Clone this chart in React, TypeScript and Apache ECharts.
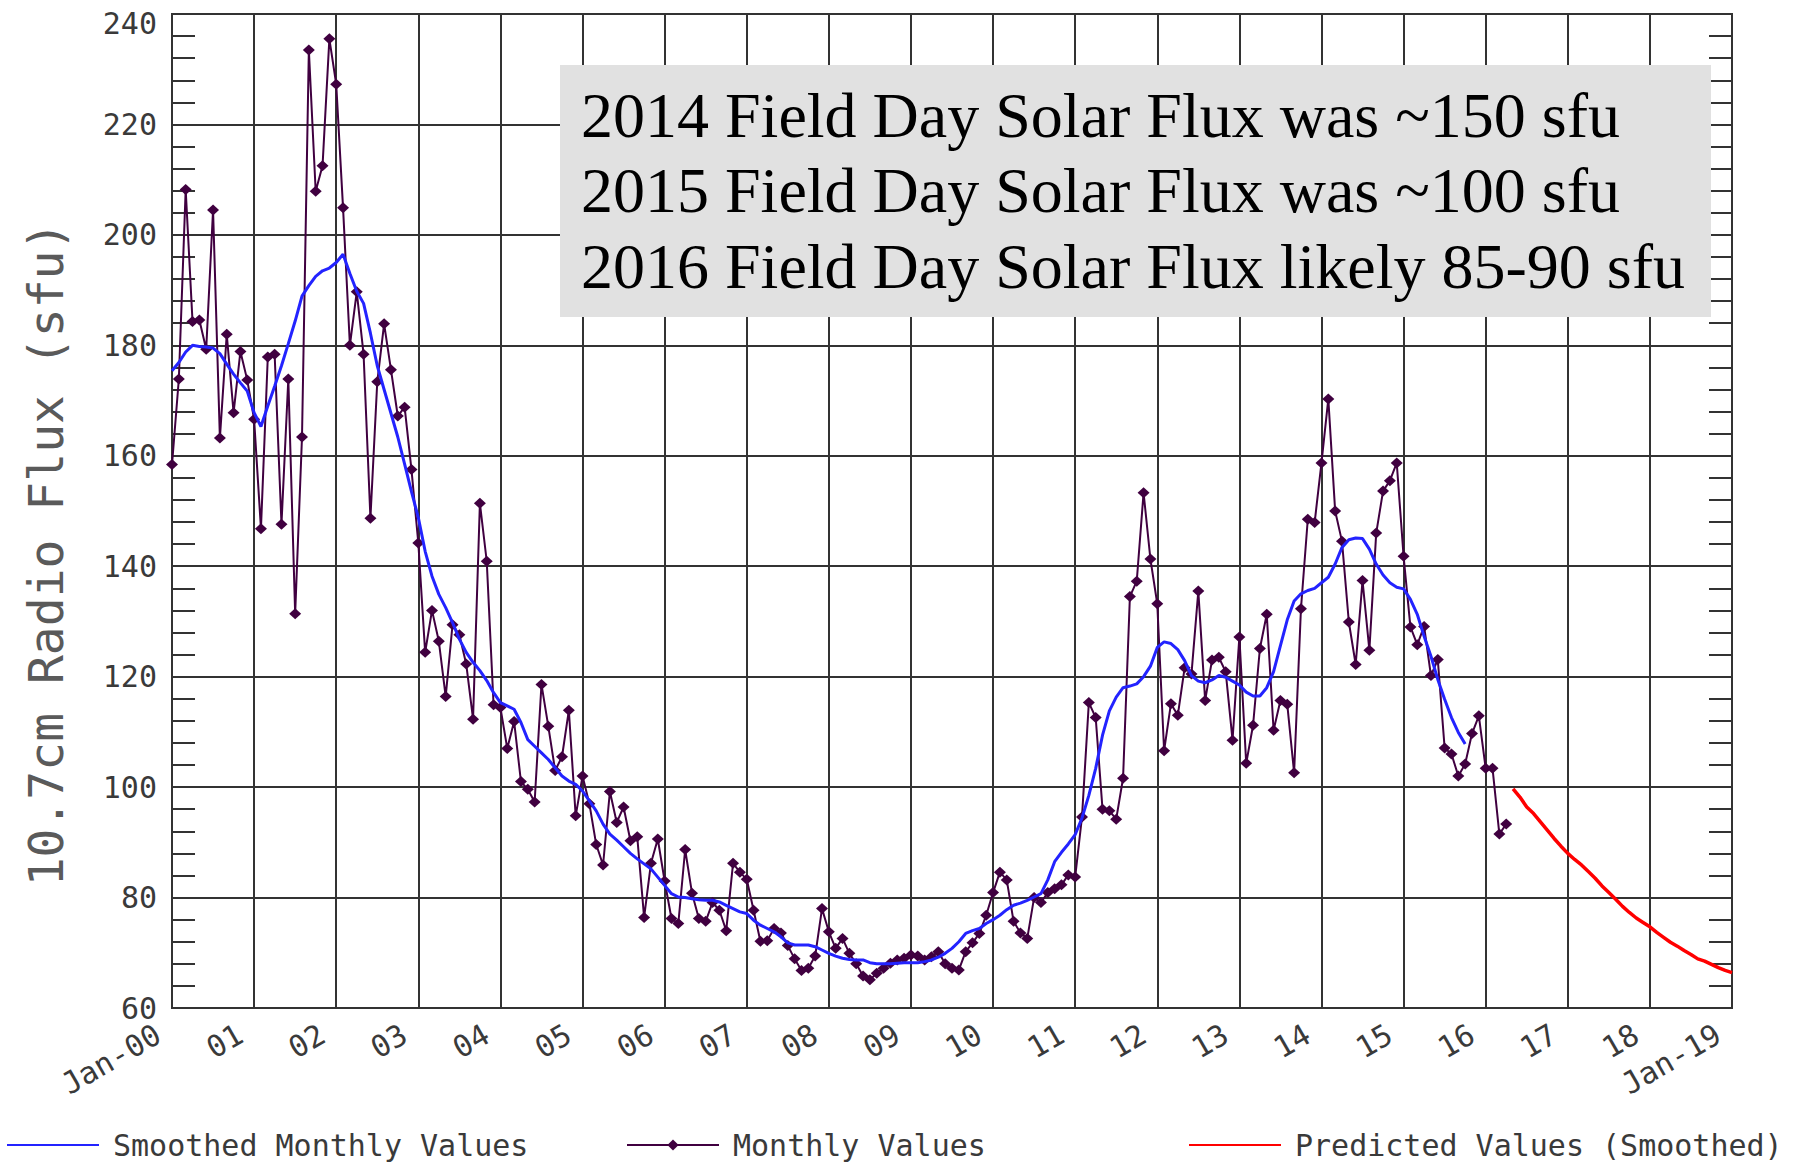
import React, { useEffect, useRef } from "react";
import * as echarts from "echarts";

// ---------- data ----------
const xTickLabels = [
  "Jan-00", "01", "02", "03", "04", "05", "06", "07", "08", "09",
  "10", "11", "12", "13", "14", "15", "16", "17", "18", "Jan-19",
];

// Monthly observed 10.7 cm flux, Jan 2000 .. Apr 2016
const monthlyStart = { year: 2000, month: 1 };
const monthlyValues = [
  158.4, 173.9, 208.2, 184.3, 184.6, 179.3, 204.5, 163.2, 182.0, 167.8, 178.9, 173.7,
  166.6, 146.8, 177.9, 178.4, 147.6, 173.9, 131.4, 163.4, 233.5, 207.9, 212.5, 235.5,
  227.3, 204.9, 180.0, 189.7, 178.4, 148.7, 173.4, 183.9, 175.6, 167.2, 168.8, 157.5,
  144.2, 124.4, 132.0, 126.4, 116.4, 129.4, 127.6, 122.3, 112.3, 151.4, 140.9, 114.9,
  114.4, 107.0, 111.9, 101.0, 99.6, 97.3, 118.6, 111.0, 103.0, 105.5, 113.9, 94.8,
  102.0, 97.0, 89.6, 85.9, 99.2, 93.6, 96.4, 90.3, 91.0, 76.4, 86.2, 90.6,
  83.0, 76.2, 75.3, 88.7, 80.8, 76.2, 75.7, 79.1, 77.7, 74.0, 86.2, 84.6,
  83.3, 77.7, 72.1, 72.2, 74.4, 73.6, 71.3, 68.9, 66.8, 67.2, 69.4, 78.0,
  73.8, 70.8, 72.6, 69.9, 68.0, 65.8, 65.1, 66.3, 67.2, 68.1, 68.7, 69.0,
  69.6, 69.4, 68.7, 69.3, 70.2, 68.0, 67.2, 66.9, 70.2, 71.8, 73.5, 76.8,
  80.9, 84.6, 83.2, 75.7, 73.6, 72.6, 80.0, 79.1, 80.9, 81.6, 82.3, 84.1,
  83.7, 94.6, 115.3, 112.6, 96.0, 95.7, 94.2, 101.6, 134.5, 137.3, 153.3, 141.3,
  133.2, 106.6, 115.1, 113.0, 121.6, 120.5, 135.5, 115.7, 123.0, 123.5, 120.9, 108.5,
  127.2, 104.3, 111.2, 125.1, 131.3, 110.3, 115.7, 115.0, 102.6, 132.3, 148.5, 147.9,
  158.7, 170.3, 150.0, 144.5, 129.9, 122.2, 137.4, 124.8, 146.0, 153.6, 155.5, 158.7,
  141.8, 129.0, 125.8, 129.1, 120.2, 123.1, 107.1, 106.0, 102.0, 104.2, 109.7, 112.9,
  103.4, 103.4, 91.5, 93.3,
];

// 13-month smoothed values, Jan 2000 .. Oct 2015
const smoothedStart = { year: 2000, month: 1 };
const smoothedValues = [
  175.4, 176.9, 178.8, 180.0, 179.8, 179.7, 179.5, 178.5, 176.6, 174.8, 173.2, 171.7,
  167.8, 165.3, 169.0, 172.6, 176.3, 180.3, 184.4, 188.9, 190.8, 192.5, 193.5, 194.0,
  195.0, 196.5, 193.0, 189.8, 187.6, 182.2, 176.3, 172.0, 167.7, 163.4, 158.5, 153.5,
  148.8, 142.7, 138.2, 134.9, 132.5, 129.8, 126.8, 124.4, 122.6, 121.1, 119.3, 117.1,
  115.3, 114.7, 114.1, 111.7, 108.6, 107.4, 106.2, 105.0, 103.5, 102.0, 101.1, 100.5,
  99.3, 97.5, 95.7, 93.3, 91.5, 90.4, 89.2, 88.0, 87.0, 86.1, 85.2, 83.7,
  82.2, 80.7, 80.1, 80.0, 79.8, 79.6, 79.5, 79.5, 79.2, 78.6, 78.0, 77.4,
  77.1, 75.9, 75.0, 74.4, 73.8, 72.9, 71.8, 71.4, 71.4, 71.4, 71.1, 70.5,
  69.9, 69.4, 69.0, 68.8, 68.7, 68.7, 68.2, 68.0, 68.0, 68.0, 68.1, 68.2,
  68.2, 68.2, 68.4, 68.7, 69.2, 69.9, 70.8, 72.0, 73.5, 74.0, 74.4, 75.3,
  76.0, 76.8, 77.8, 78.6, 79.0, 79.5, 80.1, 80.7, 83.2, 86.5, 88.2, 89.7,
  91.4, 94.4, 98.5, 103.4, 109.4, 113.8, 116.3, 118.0, 118.3, 118.7, 120.0, 121.9,
  125.3, 126.3, 126.0, 124.9, 122.9, 120.2, 119.2, 118.9, 119.4, 120.2, 119.9, 119.2,
  118.5, 117.2, 116.5, 116.5, 118.0, 120.9, 125.6, 130.3, 133.7, 135.0, 135.6, 136.0,
  137.0, 138.0, 140.4, 143.4, 144.8, 145.1, 145.0, 143.1, 140.4, 138.4, 137.0, 136.2,
  135.9, 134.0, 131.3, 127.3, 123.7, 119.5, 115.9, 112.6, 109.9, 107.8,
];

// Predicted (smoothed), May 2016 .. Jan 2019
const predictedStart = { year: 2016, month: 5 };
const predictedValues = [
  99.7, 98.2, 96.4, 95.2, 93.7, 92.2, 90.7, 89.3,
  88.0, 86.9, 85.9, 84.7, 83.5, 82.1, 80.9, 79.7, 78.4, 77.3, 76.3, 75.5,
  74.7, 73.7, 72.8, 71.9, 71.2, 70.4, 69.7, 68.9, 68.5, 67.9, 67.3, 66.8,
  66.4,
];

const seriesNames = ["Smoothed Monthly Values", "Monthly Values", "Predicted Values (Smoothed)"];
const yAxisTitle = "10.7cm Radio Flux (sfu)";
const annotationLines = [
  "2014 Field Day Solar Flux was ~150 sfu",
  "2015 Field Day Solar Flux was ~100 sfu",
  "2016 Field Day Solar Flux likely 85-90 sfu",
];

// ---------- helpers ----------
const toPoints = (start: { year: number; month: number }, values: number[]) =>
  values.map((v, i) => [start.year - 2000 + (start.month - 1 + i) / 12, v]);

const MONO = '"DejaVu Sans Mono", monospace';
const GRID_COLOR = "#333";
const LABEL_COLOR = "#3a3a3a";

export default function App() {
  const ref = useRef<HTMLDivElement>(null);

  useEffect(() => {
    document.body.style.margin = "0";
    if (!ref.current) return;
    const chart = echarts.init(ref.current, undefined, { renderer: "svg" });

    const legendBase = {
      orient: "horizontal",
      top: 1130,
      padding: 0,
      itemWidth: 92,
      itemHeight: 14,
      selectedMode: false,
      textStyle: {
        fontFamily: MONO,
        fontSize: 30,
        color: LABEL_COLOR,
        lineHeight: 30,
        padding: [0, 0, 0, 9],
      },
    };
    const hiddenSymbol = { color: "transparent", borderWidth: 0, borderColor: "transparent" };

    const axisLineStyle = { color: GRID_COLOR, width: 2 };

    const option = {
      animation: false,
      backgroundColor: "#ffffff",
      grid: {
        left: 172,
        right: 68,
        top: 14,
        bottom: 157,
        show: true,
        borderColor: GRID_COLOR,
        borderWidth: 2,
        backgroundColor: "transparent",
      },
      xAxis: {
        type: "value",
        min: 0,
        max: 19,
        interval: 1,
        axisLine: { show: true, lineStyle: axisLineStyle },
        axisTick: { show: false },
        splitLine: { show: true, lineStyle: axisLineStyle },
        axisLabel: {
          rotate: 30,
          margin: 16,
          padding: [0, 16, 0, 0],
          fontFamily: MONO,
          fontSize: 30,
          color: LABEL_COLOR,
          showMinLabel: true,
          showMaxLabel: true,
          formatter: (v: number) => xTickLabels[Math.round(v)] ?? "",
        },
      },
      yAxis: [
        {
          type: "value",
          min: 60,
          max: 240,
          interval: 20,
          position: "left",
          axisLine: { show: true, lineStyle: axisLineStyle },
          axisTick: { show: true, inside: true, length: 23, lineStyle: axisLineStyle },
          minorTick: { show: true, splitNumber: 5, length: 23, lineStyle: axisLineStyle },
          splitLine: { show: true, lineStyle: axisLineStyle },
          axisLabel: {
            margin: 15,
            fontFamily: MONO,
            fontSize: 30,
            color: LABEL_COLOR,
            formatter: (v: number) => (v === 240 ? `{top|${v}}` : `${v}`),
            rich: {
              top: {
                fontFamily: MONO,
                fontSize: 30,
                color: LABEL_COLOR,
                padding: [18, 0, 0, 0],
              },
            },
          },
        },
        {
          type: "value",
          min: 60,
          max: 240,
          interval: 20,
          position: "right",
          axisLine: { show: true, lineStyle: axisLineStyle },
          axisTick: { show: true, inside: true, length: 23, lineStyle: axisLineStyle },
          minorTick: { show: true, splitNumber: 5, length: 23, lineStyle: axisLineStyle },
          splitLine: { show: false },
          axisLabel: { show: false },
        },
      ],
      legend: [
        { ...legendBase, left: 6, data: [seriesNames[0]], itemStyle: hiddenSymbol },
        { ...legendBase, left: 626, data: [seriesNames[1]] },
        { ...legendBase, left: 1188, data: [seriesNames[2]], itemStyle: hiddenSymbol },
      ],
      graphic: [
        {
          type: "text",
          x: 46,
          y: 554,
          rotation: Math.PI / 2,
          z: 100,
          style: {
            text: yAxisTitle,
            font: `48px ${MONO}`,
            fill: "#5a5a5a",
            align: "center",
            verticalAlign: "middle",
          },
        },
        {
          type: "rect",
          z: 100,
          shape: { x: 560, y: 65, width: 1151, height: 252 },
          style: { fill: "#e1e1e1" },
        },
        ...annotationLines.map((t, i) => ({
          type: "text",
          x: 581,
          y: 115 + i * 75.5,
          z: 101,
          style: {
            text: t,
            font: '64px "Liberation Serif", "Times New Roman", serif',
            fill: "#000",
            align: "left",
            verticalAlign: "middle",
          },
        })),
      ],
      series: [
        {
          name: seriesNames[1],
          type: "line",
          data: toPoints(monthlyStart, monthlyValues),
          symbol: "diamond",
          symbolSize: [12, 11],
          showSymbol: true,
          itemStyle: { color: "#400040" },
          lineStyle: { color: "#400040", width: 2 },
          z: 3,
        },
        {
          name: seriesNames[0],
          type: "line",
          data: toPoints(smoothedStart, smoothedValues),
          symbol: "none",
          itemStyle: { color: "#2323ff" },
          lineStyle: { color: "#2323ff", width: 3 },
          z: 4,
        },
        {
          name: seriesNames[2],
          type: "line",
          data: toPoints(predictedStart, predictedValues),
          symbol: "none",
          itemStyle: { color: "#ff0000" },
          lineStyle: { color: "#ff0000", width: 3.5 },
          z: 4,
        },
      ],
    };

    chart.setOption(option as any);
    return () => chart.dispose();
  }, []);

  return <div ref={ref} style={{ width: 1800, height: 1165 }} />;
}
